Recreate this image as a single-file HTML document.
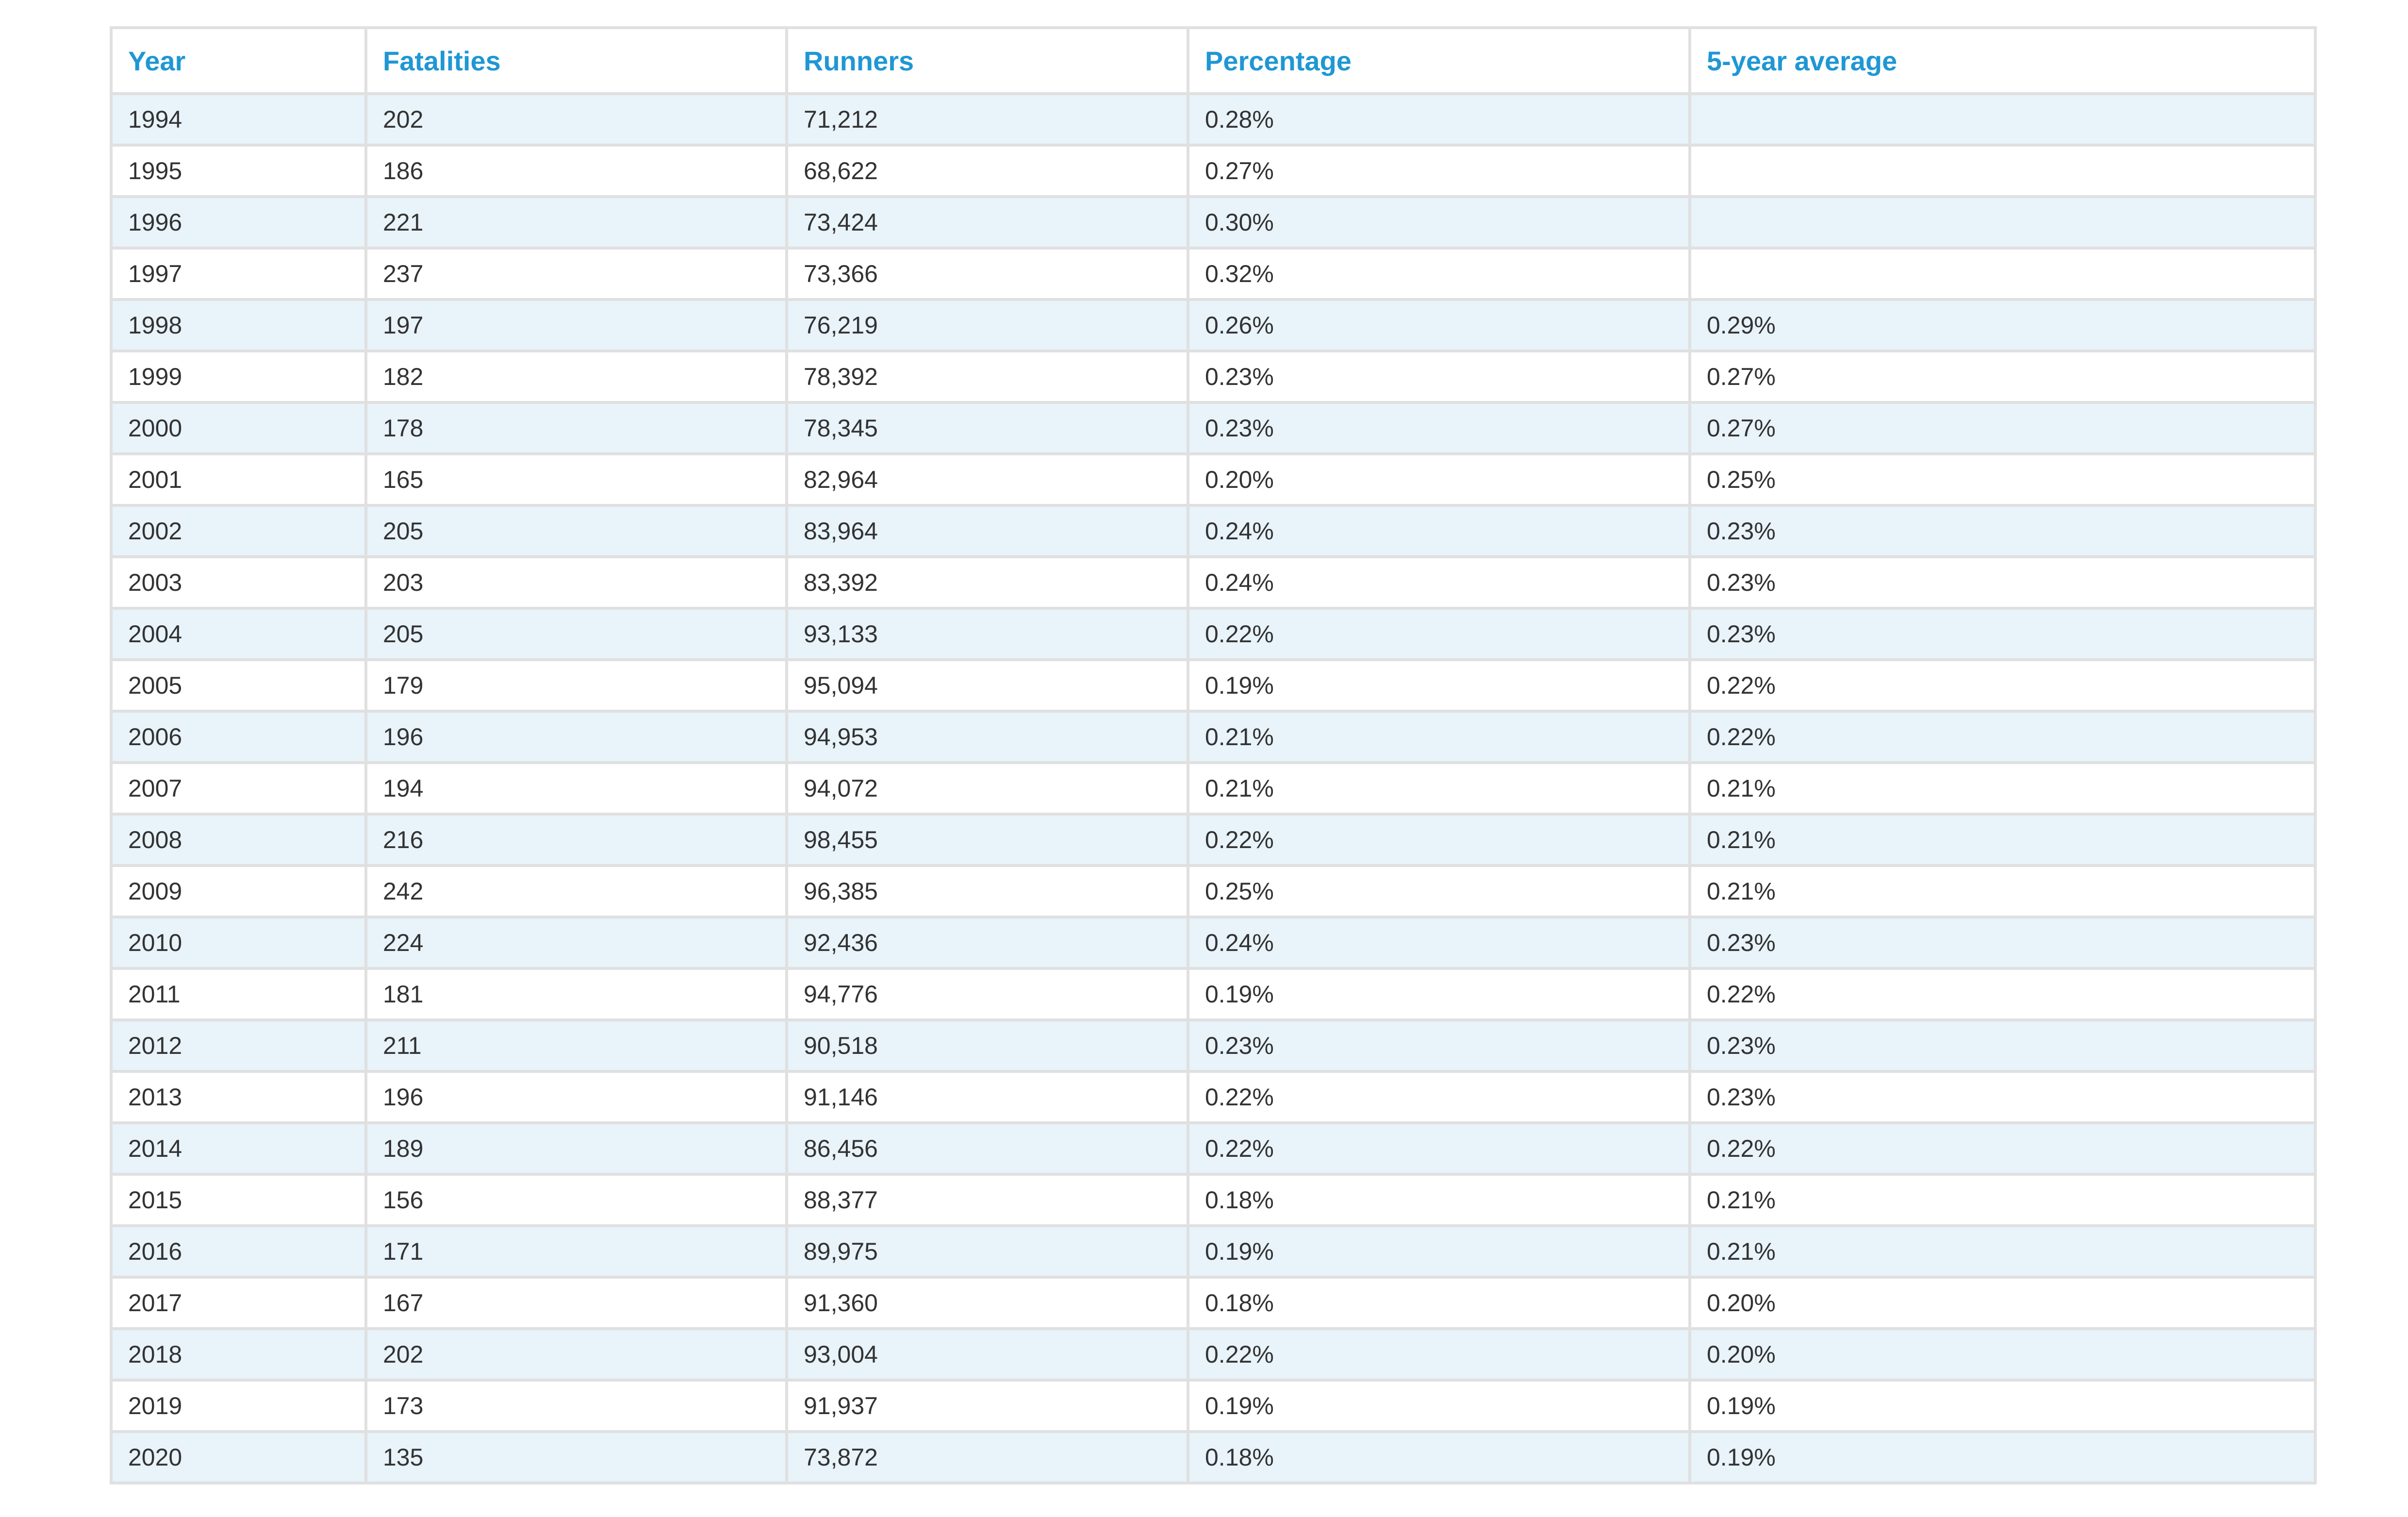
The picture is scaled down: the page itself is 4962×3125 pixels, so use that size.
<!DOCTYPE html>
<html><head><meta charset="utf-8">
<style>
html,body{margin:0;padding:0;background:#fff;width:4962px;height:3125px;overflow:hidden}
table{position:absolute;left:226px;top:54px;border-collapse:collapse;table-layout:fixed;font-family:"Liberation Sans",Arial,sans-serif}
td,th{border:6px solid #e0e0e0;padding:0 0 0 32px;text-align:left;vertical-align:middle;overflow:hidden;white-space:nowrap}
th{height:130px;color:#1f97d4;font-weight:bold;font-size:56px}
td{height:100px;color:#333;font-size:50px}
tr.odd td{background:#e8f3fa}
tr.even td{background:#fff}
</style></head>
<body>
<table id="tbl">
<colgroup><col style="width:525px"><col style="width:867px"><col style="width:827px"><col style="width:1034px"><col style="width:1289px"></colgroup>
<thead><tr>
<th>Year</th>
<th>Fatalities</th>
<th>Runners</th>
<th>Percentage</th>
<th>5-year average</th>
</tr></thead>
<tbody id="tb"></tbody>
</table>
<script>
const years=[1994,1995,1996,1997,1998,1999,2000,2001,2002,2003,2004,2005,2006,2007,2008,2009,2010,2011,2012,2013,2014,2015,2016,2017,2018,2019,2020];
const fatalities=[202,186,221,237,197,182,178,165,205,203,205,179,196,194,216,242,224,181,211,196,189,156,171,167,202,173,135];
const runners=["71,212","68,622","73,424","73,366","76,219","78,392","78,345","82,964","83,964","83,392","93,133","95,094","94,953","94,072","98,455","96,385","92,436","94,776","90,518","91,146","86,456","88,377","89,975","91,360","93,004","91,937","73,872"];
const percentage=["0.28%","0.27%","0.30%","0.32%","0.26%","0.23%","0.23%","0.20%","0.24%","0.24%","0.22%","0.19%","0.21%","0.21%","0.22%","0.25%","0.24%","0.19%","0.23%","0.22%","0.22%","0.18%","0.19%","0.18%","0.22%","0.19%","0.18%"];
const avg5=["","","","","0.29%","0.27%","0.27%","0.25%","0.23%","0.23%","0.23%","0.22%","0.22%","0.21%","0.21%","0.21%","0.23%","0.22%","0.23%","0.23%","0.22%","0.21%","0.21%","0.20%","0.20%","0.19%","0.19%"];
const names=["year-cell","fatalities-cell","runners-cell","percentage-cell","five-year-average-cell"];
const tb=document.getElementById('tb');
years.forEach((y,i)=>{
  const tr=document.createElement('tr');
  tr.className=i%2===0?'odd':'even';
  
  
  const vals=[y,fatalities[i],runners[i],percentage[i],avg5[i]];
  vals.forEach((v,j)=>{
    const td=document.createElement('td');
    td.textContent=v;
    
    
    tr.appendChild(td);
  });
  tb.appendChild(tr);
});
</script>
</body></html>
